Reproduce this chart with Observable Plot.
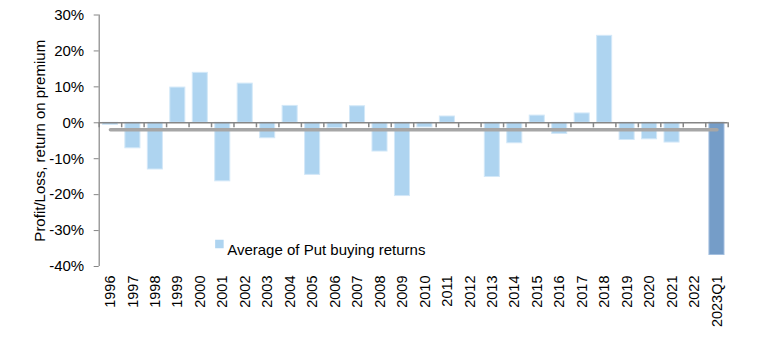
<!DOCTYPE html>
<html><head><meta charset="utf-8">
<script src="https://cdn.jsdelivr.net/npm/d3@7"></script>
<script src="https://cdn.jsdelivr.net/npm/@observablehq/plot@0.6"></script>
<style>body{margin:0;background:#fff}</style>
</head><body><div id="chart"></div>
<script>
const categories = ["1996","1997","1998","1999","2000","2001","2002","2003","2004","2005","2006","2007","2008","2009","2010","2011","2012","2013","2014","2015","2016","2017","2018","2019","2020","2021","2022","2023Q1"];
const values = [-0.6,-7.1,-13.0,9.8,13.9,-16.3,10.9,-4.3,4.7,-14.5,-1.5,4.6,-8.0,-20.4,-1.3,1.75,0,-15.1,-5.7,2.0,-3.1,2.6,24.2,-4.8,-4.6,-5.5,0,-36.8];
const highlight = "2023Q1";
const averageReturn = -1.95;
const yTicks = [-40,-30,-20,-10,0,10,20,30];
const seriesName = "Average of Put buying returns";
const yLabel = "Profit/Loss, return on premium";

const W = 770, H = 340, mL = 98.7, mR = 42.3, mT = 14.5, mB = 74;
const step = (W - mL - mR) / categories.length;
const data = categories.map((c, i) => ({year: c, value: values[i]}));
const avgLine = [categories[0], categories[categories.length - 1]].map(c => ({year: c, value: averageReturn}));
const axisColor = "#868686";

const plot = Plot.plot({
  width: W, height: H,
  marginLeft: mL, marginRight: mR, marginTop: mT, marginBottom: mB,
  style: {fontFamily: '"Liberation Sans", Arial, sans-serif', fontSize: "15px", color: "#000", background: "#fff", overflow: "visible"},
  x: {type: "band", domain: categories, paddingInner: 0.33, paddingOuter: 0.165, align: 0.5, round: false, label: null},
  y: {domain: [-40, 30], label: null},
  marks: [
    Plot.barY(data.filter(d => d.year !== highlight && d.value !== 0), {x: "year", y: "value", fill: "#aed4f0", stroke: "#d3e8f8", strokeWidth: 1}),
    Plot.barY(data.filter(d => d.year === highlight), {x: "year", y: "value", fill: "#759dc8", stroke: "#a3bfdf", strokeWidth: 1}),
    Plot.ruleY([0], {stroke: axisColor, strokeWidth: 1.5}),
    Plot.ruleX(categories, {x: d => d, dx: -step / 2, y1: 0, y2: -1.4, stroke: axisColor, strokeWidth: 1.5}),
    Plot.ruleX([categories[categories.length - 1]], {x: d => d, dx: step / 2, y1: 0, y2: -1.4, stroke: axisColor, strokeWidth: 1.5}),
    Plot.line(avgLine, {x: "year", y: "value", stroke: "#a6a6a6", strokeWidth: 3.5}),
    Plot.ruleX([categories[0]], {x: d => d, dx: -step / 2, y1: -40, y2: 30, stroke: axisColor, strokeWidth: 1.2}),
    Plot.axisY({ticks: yTicks, tickFormat: d => d + "%", tickSize: 5, stroke: axisColor, fontSize: 15, tickPadding: 10, label: null}),
    Plot.axisX({tickRotate: -90, tickSize: 0, tickPadding: 9, fontSize: 14.5, label: null}),
    Plot.dot([seriesName], {frameAnchor: "top-left", dx: 120.2, dy: 229, symbol: "square", r: 4.8, fill: "#aed4f0", stroke: "none"}),
    Plot.text([seriesName], {frameAnchor: "top-left", dx: 128, dy: 229.5, text: d => d, textAnchor: "start", fontSize: 15, fill: "#000"}),
    Plot.text([yLabel], {frameAnchor: "left", dx: -58.7, rotate: -90, text: d => d, textAnchor: "middle", fontSize: 15, fill: "#000"})
  ]
});
document.getElementById("chart").append(plot);
</script>
</body></html>
